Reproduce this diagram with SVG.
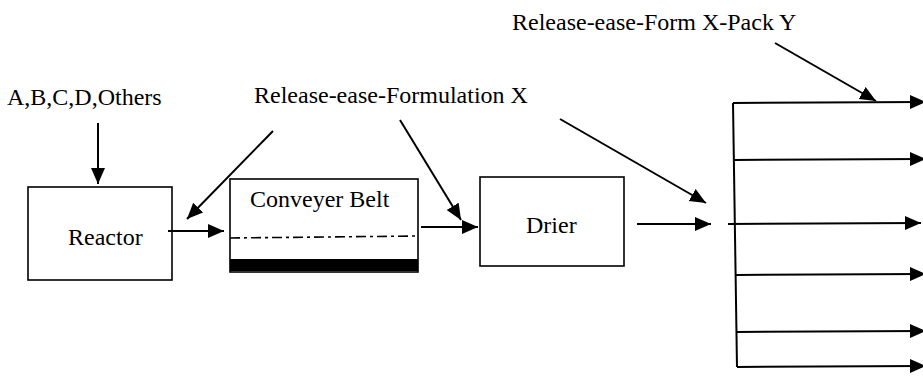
<svg xmlns="http://www.w3.org/2000/svg" width="923" height="380" viewBox="0 0 923 380">
  <defs>
    <marker id="arrow" markerUnits="userSpaceOnUse" markerWidth="17" markerHeight="15" refX="16" refY="7" orient="auto">
      <path d="M0,0 L16,7 L0,14 z" fill="#000"/>
    </marker>
  </defs>
  <style>
    text { font-family: 'Liberation Serif', 'DejaVu Serif', serif; font-size: 24px; fill: #000; }
    .box { fill: #fff; stroke: #000; stroke-width: 1.6; }
    .conn { fill: none; stroke: #000; stroke-width: 2; }
    .arr { marker-end: url(#arrow); }
  </style>
  <rect width="923" height="380" fill="#fff"/>

  <!-- input labels -->
  <g id="inputs">
    <text x="7" y="105" font-family="Liberation Serif, serif">A,B,C,D,Others</text>
  </g>
  <g id="formulation-x">
    <text x="254" y="103" font-family="Liberation Serif, serif">Release-ease-Formulation X</text>
  </g>
  <g id="form-pack-y">
    <text x="512" y="30" font-family="Liberation Serif, serif">Release-ease-Form X-Pack Y</text>
  </g>

  <!-- process units -->
  <g id="reactor">
    <rect class="box" x="28" y="187" width="144" height="93"/>
    <text x="68" y="245" font-family="Liberation Serif, serif">Reactor</text>
  </g>
  <g id="conveyer-belt">
    <rect class="box" x="230" y="179" width="188" height="93"/>
    <line x1="230" y1="238" x2="418" y2="236" stroke="#000" stroke-width="1.6" stroke-dasharray="10 4 3 4"/>
    <rect x="230" y="259" width="188" height="12" fill="#000"/>
    <text x="250" y="207" font-family="Liberation Serif, serif">Conveyer Belt</text>
  </g>
  <g id="drier">
    <rect class="box" x="480" y="177" width="144" height="89"/>
    <text x="526" y="233" font-family="Liberation Serif, serif">Drier</text>
  </g>

  <!-- packing distribution bar -->
  <g id="distribution">
    <line class="conn" x1="733" y1="103" x2="737" y2="367"/>
  </g>

  <g id="connectors">
    <line class="conn arr" x1="98" y1="123" x2="98" y2="184"/>
    <line class="conn arr" x1="273" y1="131" x2="187" y2="219"/>
    <line class="conn arr" x1="168" y1="231" x2="224" y2="231"/>
    <line class="conn arr" x1="400" y1="120" x2="461" y2="220"/>
    <line class="conn arr" x1="421" y1="227" x2="478" y2="227"/>
    <line class="conn arr" x1="560" y1="119" x2="706" y2="203"/>
    <line class="conn arr" x1="637" y1="224" x2="711" y2="224"/>
    <line class="conn arr" x1="775" y1="43" x2="876" y2="101"/>
    <line class="conn arr" x1="733" y1="103" x2="926" y2="102"/>
    <line class="conn arr" x1="734" y1="160" x2="926" y2="159"/>
    <line class="conn arr" x1="728" y1="224" x2="921" y2="223"/>
    <line class="conn arr" x1="736" y1="275" x2="926" y2="274"/>
    <line class="conn arr" x1="737" y1="332" x2="926" y2="331"/>
    <line class="conn arr" x1="737" y1="367" x2="926" y2="366"/>
  </g>
</svg>
